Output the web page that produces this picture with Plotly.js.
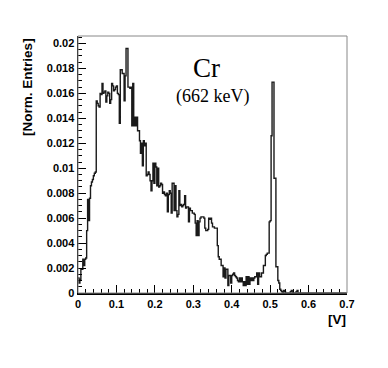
<!DOCTYPE html>
<html>
<head>
<meta charset="utf-8">
<script src="https://cdn.plot.ly/plotly-3.0.1.min.js"></script>
<style>
  html, body { margin: 0; padding: 0; background: #ffffff; }
  #chart { width: 388px; height: 368px; }
</style>
</head>
<body>
<div id="chart"></div>
<script>
// Histogram: 280 bins of 0.0025 V from 0 to 0.7 V
const BIN_W = 0.0025;
const X_MIN = 0;

// bin contents, 0.000 - 0.1475
const countsLow = [
  0.0012, 0.0008, 0.0011, 0.0019, 0.0019, 0.0027, 0.0022, 0.0027, 0.0028, 0.0050,
  0.0075, 0.0058, 0.0076, 0.0086, 0.0089, 0.0091, 0.0094, 0.0096, 0.0097, 0.0154,
  0.0152, 0.0150, 0.0149, 0.0160, 0.0159, 0.0168, 0.0160, 0.0161, 0.0162, 0.0153,
  0.0158, 0.0161, 0.0160, 0.0152, 0.0155, 0.0168, 0.0166, 0.0162, 0.0163, 0.0165,
  0.0166, 0.0160, 0.0159, 0.0136, 0.0179, 0.0179, 0.0176, 0.0176, 0.0154, 0.0174,
  0.0196, 0.0196, 0.0165, 0.0165, 0.0164, 0.0165, 0.0134, 0.0168, 0.0134, 0.0141
];
// 0.150 - 0.2975
const countsMid = [
  0.0134, 0.0141, 0.0130, 0.0130, 0.0122, 0.0112, 0.0120, 0.0102, 0.0122, 0.0118,
  0.0120, 0.0094, 0.0095, 0.0097, 0.0095, 0.0090, 0.0082, 0.0090, 0.0104, 0.0088,
  0.0104, 0.0101, 0.0086, 0.0100, 0.0085, 0.0086, 0.0088, 0.0087, 0.0080, 0.0081,
  0.0079, 0.0078, 0.0080, 0.0065, 0.0079, 0.0082, 0.0080, 0.0064, 0.0088, 0.0088,
  0.0066, 0.0086, 0.0066, 0.0061, 0.0063, 0.0082, 0.0070, 0.0071, 0.0069, 0.0070,
  0.0071, 0.0078, 0.0068, 0.0069, 0.0069, 0.0057, 0.0068, 0.0066, 0.0066, 0.0064
];
// 0.300 - 0.4475
const countsHigh = [
  0.0064, 0.0063, 0.0056, 0.0046, 0.0058, 0.0046, 0.0057, 0.0060, 0.0061, 0.0061,
  0.0061, 0.0060, 0.0052, 0.0050, 0.0050, 0.0051, 0.0060, 0.0059, 0.0060, 0.0056,
  0.0053, 0.0053, 0.0052, 0.0052, 0.0052, 0.0038, 0.0029, 0.0027, 0.0027, 0.0022,
  0.0022, 0.0013, 0.0020, 0.0012, 0.0019, 0.0019, 0.0006, 0.0014, 0.0014, 0.0008,
  0.0014, 0.0015, 0.0016, 0.0014, 0.0013, 0.0012, 0.0010, 0.0009, 0.0012, 0.0009,
  0.0012, 0.0009, 0.0006, 0.0009, 0.0006, 0.0013, 0.0007, 0.0013, 0.0007, 0.0012
];
// 0.450 - 0.5975 (photopeak region)
const countsPeak = [
  0.0010, 0.0012, 0.0010, 0.0012, 0.0013, 0.0013, 0.0016, 0.0007, 0.0016, 0.0013,
  0.0013, 0.0016, 0.0016, 0.0022, 0.0022, 0.0030, 0.0031, 0.0032, 0.0032, 0.0057,
  0.0058, 0.0126, 0.0169, 0.0169, 0.0092, 0.0092, 0.0021, 0.0021, 0.0010, 0.0008,
  0.0003, 0.0002, 0.0001, 0.0000, 0.0002, 0.0001, 0.0000, 0.0000, 0.0000, 0.0000,
  0.0000, 0.0001, 0.0002, 0.0000, 0.0000, 0.0000, 0.0000, 0.0001, 0.0002, 0.0000,
  0.0000, 0.0000, 0.0000, 0.0000, 0.0000, 0.0000, 0.0000, 0.0000, 0.0000, 0.0000
];
// 0.600 - 0.6975
const countsTail = [
  0, 0, 0, 0, 0, 0, 0, 0, 0, 0,
  0, 0, 0, 0, 0, 0, 0, 0, 0, 0,
  0, 0, 0, 0, 0, 0, 0, 0, 0, 0,
  0, 0, 0, 0, 0, 0, 0, 0, 0, 0
];

const xTickVals = [0, 0.1, 0.2, 0.3, 0.4, 0.5, 0.6, 0.7];
const yTickVals = [0, 0.002, 0.004, 0.006, 0.008, 0.01, 0.012, 0.014, 0.016, 0.018, 0.02];

const labelText = 'Cr';
const energyText = '(662 keV)';
const xTitle = '[V]';
const yTitle = '[Norm. Entries]';

// ROOT-like step outline: bin edges with the last content repeated
const counts = countsLow.concat(countsMid, countsHigh, countsPeak, countsTail);
const edges = counts.map((_, i) => X_MIN + i * BIN_W);
edges.push(X_MIN + counts.length * BIN_W);
const steps = counts.concat([counts[counts.length - 1]]);

const labelFont = { family: 'Liberation Sans, Arial, sans-serif', size: 11, color: '#000' };
const titleFont = { family: 'Liberation Sans, Arial, sans-serif', size: 13.5, color: '#000' };

const data = [{
  x: edges,
  y: steps,
  type: 'scatter',
  mode: 'lines',
  line: { shape: 'hv', color: '#1a1a1a', width: 1.4 },
  hoverinfo: 'skip'
}];

const layout = {
  width: 388,
  height: 368,
  margin: { l: 78, r: 41, t: 36, b: 75 },
  paper_bgcolor: '#fff',
  plot_bgcolor: '#fff',
  showlegend: false,
  font: labelFont,
  xaxis: {
    range: [0, 0.7],
    tickvals: xTickVals,
    ticktext: xTickVals.map(v => '<b>' + v + '</b>'),
    ticks: 'inside',
    ticklen: 8,
    tickwidth: 1,
    tickcolor: '#000',
    minor: { dtick: 0.02, ticks: 'inside', ticklen: 4, tickcolor: '#000', showgrid: false },
    showgrid: false,
    zeroline: false,
    showline: true,
    linecolor: '#000',
    linewidth: 1.5,
    tickfont: labelFont
  },
  yaxis: {
    range: [0, 0.0206],
    tickvals: yTickVals,
    ticktext: yTickVals.map(v => '<b>' + v + '</b>'),
    ticks: 'inside',
    ticklen: 8,
    tickwidth: 1,
    tickcolor: '#000',
    minor: { dtick: 0.0005, ticks: 'inside', ticklen: 4, tickcolor: '#000', showgrid: false },
    showgrid: false,
    zeroline: false,
    showline: true,
    linecolor: '#000',
    linewidth: 1.5,
    tickfont: labelFont
  },
  shapes: [{
    type: 'rect', xref: 'paper', yref: 'paper', x0: 0, x1: 1, y0: 0, y1: 1,
    line: { color: '#888', width: 1 }
  }],
  annotations: [
    {
      text: labelText, xref: 'paper', yref: 'paper', x: 0.478, y: 0.877,
      showarrow: false, xanchor: 'center', yanchor: 'middle',
      font: { family: 'Liberation Serif, Times New Roman, serif', size: 27, color: '#000' }
    },
    {
      text: energyText, xref: 'paper', yref: 'paper', x: 0.5, y: 0.764,
      showarrow: false, xanchor: 'center', yanchor: 'middle',
      font: { family: 'Liberation Serif, Times New Roman, serif', size: 18, color: '#000' }
    },
    {
      text: '<b>' + xTitle + '</b>', xref: 'paper', yref: 'paper', x: 1.005, y: -0.068,
      showarrow: false, xanchor: 'right', yanchor: 'top',
      font: titleFont
    },
    {
      text: '<b>' + yTitle + '</b>', xref: 'paper', yref: 'paper', x: -0.19, y: 1.0,
      showarrow: false, xanchor: 'center', yanchor: 'top', textangle: -90,
      font: titleFont
    }
  ]
};

Plotly.newPlot('chart', data, layout, { displayModeBar: false, staticPlot: true });
</script>
</body>
</html>
